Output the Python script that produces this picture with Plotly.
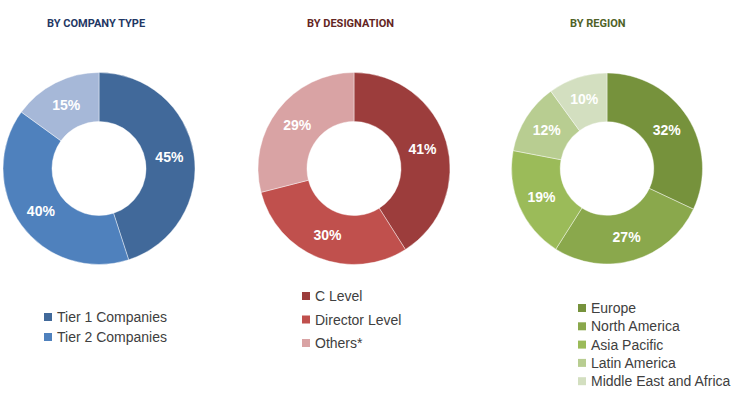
import plotly.graph_objects as go

W, H = 750, 399

# ---- data ----
titles = ["BY COMPANY TYPE", "BY DESIGNATION", "BY REGION"]
title_colors = ["#1F3864", "#632523", "#4F6228"]

company_labels = ["Tier 1 Companies", "Tier 2 Companies", "Tier 3 Companies"]
company_values = [45, 40, 15]
company_colors = ["#41699A", "#4F81BD", "#A6B8D8"]
company_legend = ["Tier 1 Companies", "Tier 2 Companies"]

designation_labels = ["C Level", "Director Level", "Others*"]
designation_values = [41, 30, 29]
designation_colors = ["#9C3D3C", "#C0504D", "#D9A3A4"]
designation_legend = ["C Level", "Director Level", "Others*"]

region_labels = ["Europe", "North America", "Asia Pacific", "Latin America", "Middle East and Africa"]
region_values = [32, 27, 19, 12, 10]
region_colors = ["#76923C", "#8AA84C", "#9BBB59", "#B8CD91", "#D3DFC0"]
region_legend = region_labels

# ---- layout helpers (window pixel geometry -> paper) ----
def px_x(x):
    return x / W

def px_y(y):
    return 1 - y / H

def px_dom(cx, cy, r):
    return dict(x=[px_x(cx - r), px_x(cx + r)], y=[px_y(cy + r), px_y(cy - r)])

pies = [
    (company_labels, company_values, company_colors, px_dom(99, 168.5, 96)),
    (designation_labels, designation_values, designation_colors, px_dom(354, 168.5, 96)),
    (region_labels, region_values, region_colors, px_dom(607, 168.5, 95.5)),
]

fig = go.Figure()
for labels, values, colors, dom in pies:
    fig.add_trace(go.Pie(
        labels=labels, values=values, sort=False, direction="clockwise", rotation=0,
        hole=0.49, domain=dom, showlegend=False,
        marker=dict(colors=colors, line=dict(color="rgba(255,255,255,0.6)", width=0.7)),
        texttemplate="%{value}%", textposition="inside",
        insidetextorientation="horizontal",
        textfont=dict(family="Liberation Sans, Arial, sans-serif", size=14, color="white", weight="bold"),
    ))

annotations = []
title_x = [96, 350, 598]
for t, c, x in zip(titles, title_colors, title_x):
    annotations.append(dict(
        text="<b>%s</b>" % t, x=px_x(x), y=px_y(23), xref="paper", yref="paper",
        xanchor="center", yanchor="middle", showarrow=False,
        font=dict(family="Roboto, sans-serif", size=11, color=c)))

shapes = []
legend_specs = [
    (company_legend, company_colors, 44, 317, 20),
    (designation_legend, designation_colors, 302, 296, 23.5),
    (region_legend, region_colors, 578, 308, 18.3),
]
for names, colors, x0, y0, dy in legend_specs:
    for i, (n, c) in enumerate(zip(names, colors)):
        yc = y0 + i * dy
        shapes.append(dict(type="rect", xref="paper", yref="paper",
                           x0=px_x(x0), x1=px_x(x0 + 8), y0=px_y(yc + 4), y1=px_y(yc - 4),
                           fillcolor=c, line=dict(width=0)))
        annotations.append(dict(
            text=n, x=px_x(x0 + 11), y=px_y(yc), xref="paper", yref="paper",
            xanchor="left", yanchor="middle", showarrow=False,
            font=dict(family="Liberation Sans, Arial, sans-serif", size=14, color="#404040")))

fig.update_layout(
    width=W, height=H, margin=dict(l=0, r=0, t=0, b=0),
    paper_bgcolor="white", plot_bgcolor="white",
    annotations=annotations, shapes=shapes,
)

fig.write_html("out.html", config={"displayModeBar": False},
               post_script="document.body.style.margin='0';document.body.style.overflow='hidden';")
